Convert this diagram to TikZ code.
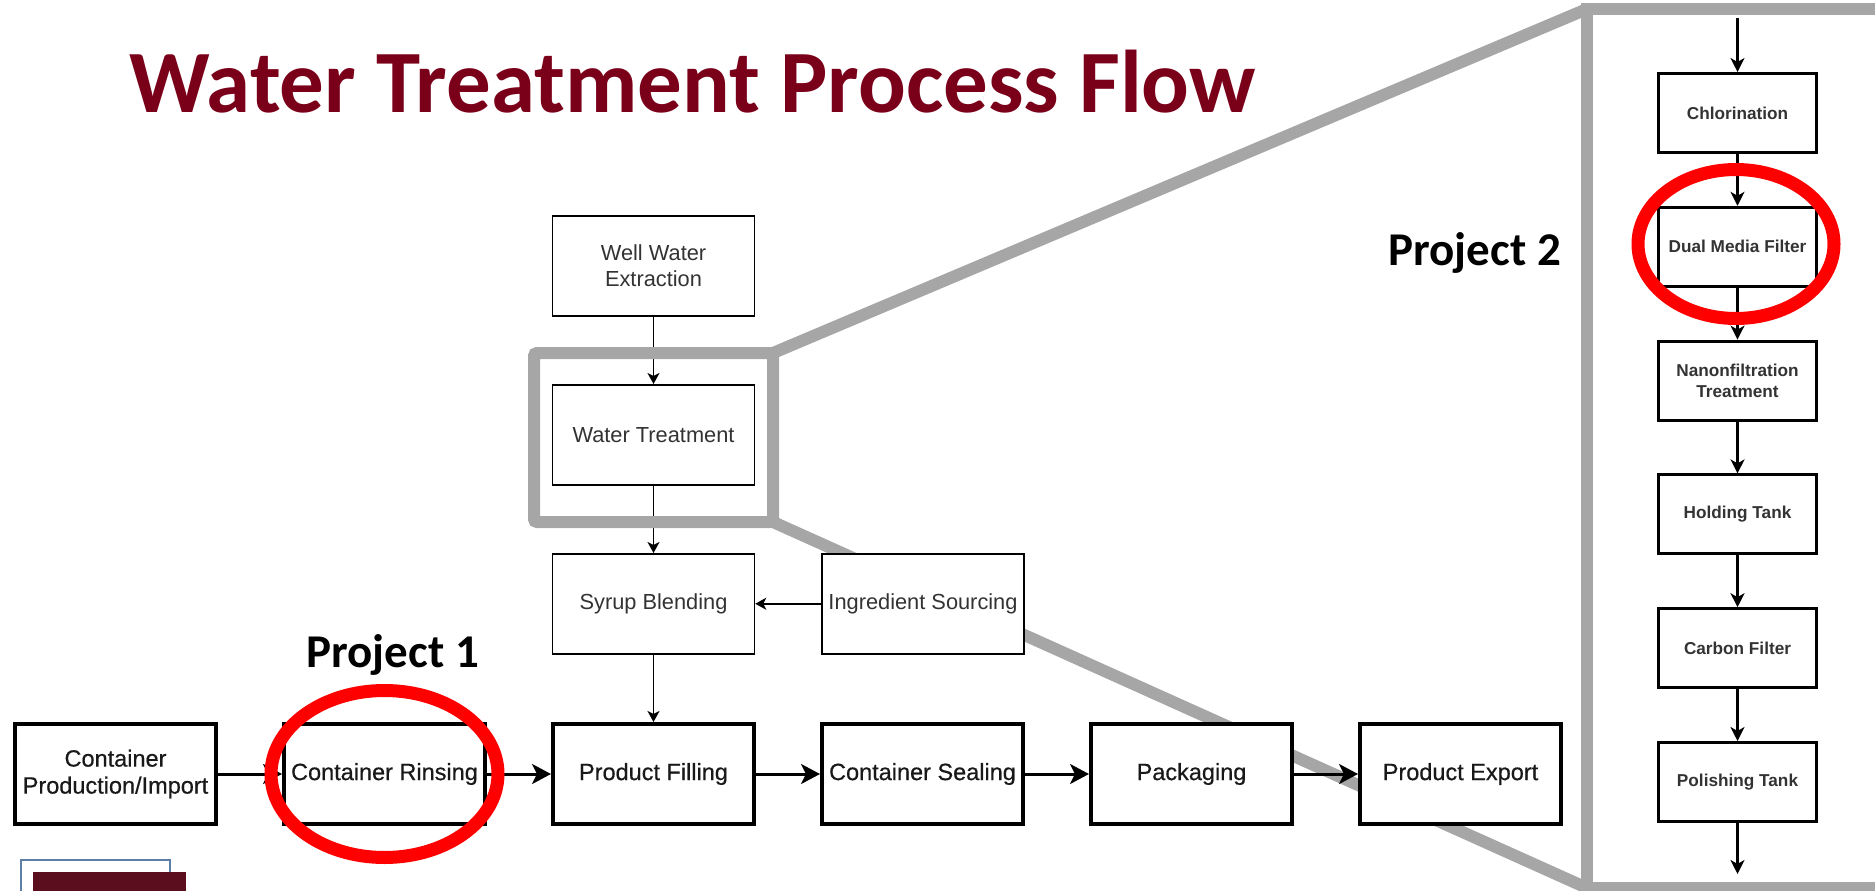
\documentclass[tikz,border=0pt]{standalone}
\usepackage{fontspec}
\setmainfont{Liberation Sans}
\newfontfamily\titlefont{Carlito}
\newfontfamily\rowfont[FakeBold=0.5]{Liberation Sans}
\usepackage{tikz}
\usetikzlibrary{positioning,arrows.meta}
\definecolor{titlered}{HTML}{7A001A}
\definecolor{zoomgray}{HTML}{A6A6A6}
\definecolor{ringred}{HTML}{FF0000}
\definecolor{labelgray}{HTML}{333333}
\definecolor{logoblue}{HTML}{5B7FA6}
\definecolor{logomaroon}{HTML}{5A0E1E}
\tikzset{
  % --- main product line ---
  mainbox/.style={draw=black, line width=4pt, fill=white, align=center,
                  minimum width=201pt, minimum height=100pt, inner sep=2pt,
                  text=black!90, font=\rowfont\fontsize{23.5}{27}\selectfont},
  mainflow/.style={line width=3pt, -{Stealth[length=19pt,width=20pt,inset=5pt]}},
  % --- water / syrup side ---
  upbox/.style={draw=black, line width=1.5pt, fill=white, align=center,
                minimum width=202pt, minimum height=100pt, text=labelgray,
                font=\fontsize{21.8}{26}\selectfont},
  upflow/.style={line width=1.5pt, -{Stealth[length=11pt,width=12pt,inset=3pt]}},
  % --- treatment detail ---
  tankbox/.style={draw=black, line width=3pt, fill=white, align=center,
                  minimum width=158pt, minimum height=79pt, text=labelgray,
                  font=\bfseries\fontsize{17.2}{20.5}\selectfont},
  tankflow/.style={line width=2.2pt, -{Stealth[length=14pt,width=14pt,inset=4pt]}},
  % --- call-outs ---
  zoomline/.style={draw=zoomgray, line width=12pt},
  ring/.style={draw=ringred, line width=13pt},
  projlabel/.style={anchor=base west, font=\titlefont\bfseries\fontsize{47}{50}\selectfont},
}
\begin{document}
\begin{tikzpicture}[x=1pt, y=-1pt, node distance=64pt]
  \useasboundingbox (0,0) rectangle (1875,891);
  % zoom frame corners
  \coordinate (hlNW) at (534,353); \coordinate (hlNE) at (773,353);
  \coordinate (hlSE) at (773,522);
  \coordinate (pnNW) at (1587,9);  \coordinate (pnSE) at (1881,888);
  \coordinate (pnSW) at (1587,888);
  \draw[zoomline] (hlNE) -- (pnNW);
  \draw[zoomline] (hlSE) -- (pnSW);

  \node[anchor=base west, text=titlered, font=\titlefont\bfseries\fontsize{89}{92}\selectfont]
        (title) at (126,112) {Water Treatment Process Flow};

  % main line
  \node[mainbox] (cpi) at (115.5,774) {Container\\Production/Import};
  \node[mainbox, right=of cpi] (rinse) {Container Rinsing};
  \node[mainbox, right=of rinse] (fill) {Product Filling};
  \node[mainbox, right=of fill] (seal) {Container Sealing};
  \node[mainbox, right=of seal] (pack) {Packaging};
  \node[mainbox, right=of pack] (export) {Product Export};
  \draw[mainflow] (cpi) -- (rinse);
  \draw[mainflow] (rinse) -- (fill);
  \draw[mainflow] (fill) -- (seal);
  \draw[mainflow] (seal) -- (pack);
  \draw[mainflow] (pack) -- (export);

  % water and syrup
  \node[upbox, above=67.5pt of fill] (syrup) {Syrup Blending};
  \node[upbox, above=67.5pt of syrup] (wtreat) {Water Treatment};
  \node[upbox, above=67.5pt of wtreat] (well) {Well Water\\Extraction};
  \node[upbox, right=66pt of syrup] (ingr) {Ingredient Sourcing};
  \draw[upflow] (well) -- (wtreat);
  \draw[upflow] (wtreat) -- (syrup);
  \draw[upflow] (ingr) -- (syrup);
  \draw[upflow] (syrup) -- (fill);

  % treatment detail
  \coordinate (tin) at (1737.5,18);
  \coordinate (tout) at (1737.5,874);
  \node[tankbox] (chlor) at (1737.5,113) {Chlorination};
  \node[tankbox, below=51.8pt of chlor] (dual) {Dual Media Filter};
  \node[tankbox, below=51.8pt of dual] (nano) {Nanonfiltration\\Treatment};
  \node[tankbox, below=51.8pt of nano] (hold) {Holding Tank};
  \node[tankbox, below=51.8pt of hold] (carbon) {Carbon Filter};
  \node[tankbox, below=51.8pt of carbon] (polish) {Polishing Tank};
  \draw[tankflow] (tin) -- (chlor);
  \draw[tankflow] (chlor) -- (dual);
  \draw[tankflow] (dual) -- (nano);
  \draw[tankflow] (nano) -- (hold);
  \draw[tankflow] (hold) -- (carbon);
  \draw[tankflow] (carbon) -- (polish);
  \draw[tankflow] (polish) -- (tout);

  % frames
  \draw[zoomline, rounded corners=3pt] (hlNW) rectangle (hlSE);
  \draw[zoomline] (pnNW) rectangle (pnSE);

  % project marks
  \draw[ring] (rinse.center) ellipse [x radius=113.5pt, y radius=83.5pt];
  \draw[ring] (1736,244) ellipse [x radius=98pt, y radius=74.5pt];
  \node[projlabel] (proj1) at (303,667) {Project 1};
  \node[projlabel] (proj2) at (1385,265) {Project 2};

  % logo stub
  \draw[logoblue, line width=2pt] (21,895) |- (170,860) -- (170,895);
  \fill[logomaroon] (33,872) rectangle (186,895);
\end{tikzpicture}
\end{document}
